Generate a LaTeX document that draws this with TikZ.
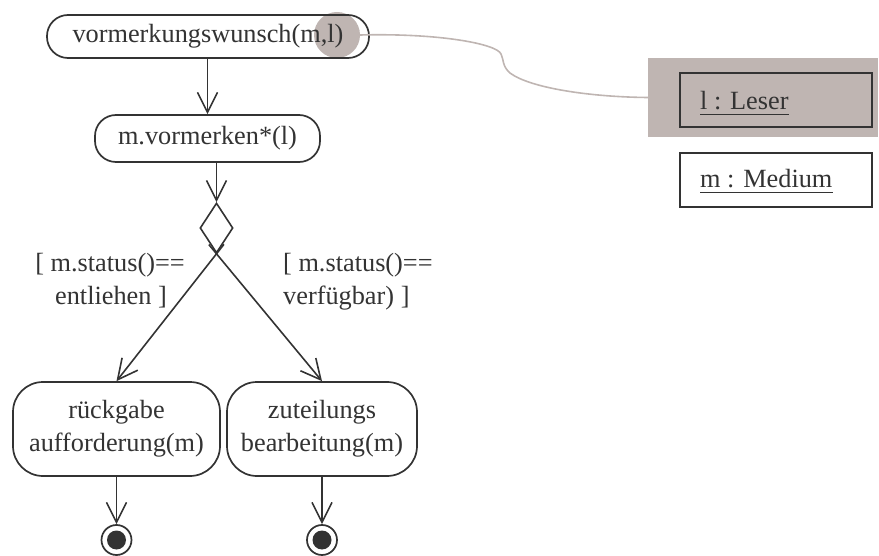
\documentclass[tikz,border=0pt]{standalone}
\usepackage{fontspec}
\setmainfont{Liberation Serif}
\usetikzlibrary{shapes.geometric,arrows.meta,calc}
\definecolor{ink}{HTML}{333333}
\definecolor{objgrey}{HTML}{BFB5B2}
\begin{document}
\begin{tikzpicture}[x=1pt,y=-1pt,
  font=\fontsize{26.3}{33}\selectfont, text=ink,
  act/.style={draw=ink, line width=1.7pt, rectangle, inner sep=0pt, align=center},
  flow/.style={draw=ink, line width=1.6pt,
    -{Straight Barb[length=20pt,width=20pt,line width=1.6pt]}},
  guard/.style={inner sep=0pt, anchor=base},
  objbox/.style={draw=ink, line width=1.7pt, minimum width=192pt, minimum height=54pt, inner sep=0pt},
  objname/.style={inner sep=0pt, anchor=base west},
  final/.style={circle, draw=ink, line width=1.7pt, fill=white, minimum size=30pt, inner sep=0pt,
    path picture={\fill[ink] (path picture bounding box.center) circle (9.5pt);}}
]
\useasboundingbox (0,0) rectangle (879,556);

% highlighted parameter of the first action
\node[circle, fill=objgrey, minimum size=46pt, inner sep=0pt] (hook) at (337,35) {};

% actions
\node[act, rounded corners=21pt, minimum width=322pt, minimum height=43pt] (wish) at (208,36.5) {vormerkungswunsch(m,l)};
\node[act, rounded corners=21pt, minimum width=225pt, minimum height=47pt] (vm) at (207.5,138.5) {m.vormerken*(l)};
\node[diamond, draw=ink, line width=1.6pt, minimum width=33pt, minimum height=50pt, inner sep=0pt] (dec) at (216.5,228) {};
\node[act, rounded corners=30pt, minimum width=207pt, minimum height=94pt] (ret) at (116.5,429) {rückgabe\\aufforderung(m)};
\node[act, rounded corners=30pt, minimum width=190pt, minimum height=94pt] (alloc) at (322,429) {zuteilungs\\bearbeitung(m)};
\node[final] (endL) at (116.5,540) {};
\node[final] (endR) at (322,540) {};

% guards
\node[guard] (g1a) at (110,272) {[ m.status()==};
\node[guard] (g1b) at (111,305) {entliehen ]};
\node[guard, anchor=base west] (g2a) at (283,272) {[ m.status()==};
\node[guard, anchor=base west] (g2b) at (283,305) {verfügbar) ]};

% objects
\node[fill=objgrey, minimum width=230pt, minimum height=79pt, inner sep=0pt] (lgroup) at (763,97.5) {};
\node[objbox] (lbox) at (776,100) {};
\node[objname] (ltext) at (700,110) {l : Leser};
\node[objbox] (mbox) at (776,180) {};
\node[objname] (mtext) at (700,188) {m : Medium};
\draw[ink, line width=1.5pt] ($(ltext.base west)+(0,4.5)$) -- ($(ltext.base east)+(0,4.5)$);
\draw[ink, line width=1.5pt] ($(mtext.base west)+(0,4.5)$) -- ($(mtext.base east)+(0,4.5)$);

% control flow
\draw[flow] (vm.north |- wish.south) -- (vm.north);
\draw[flow] (vm.south -| dec.north) -- (dec.north);
\draw[flow] ($(dec.south)!-12pt!(ret.north)$) -- (ret.north);
\draw[flow] ($(dec.south)!-12pt!(alloc.north)$) -- (alloc.north);
\draw[flow] (ret.south) -- (endL.north);
\draw[flow] (alloc.south) -- (endR.north);

% link from parameter to object
\draw[objgrey, line width=1.6pt] (hook.east) .. controls (440,33) and (497,44) .. (501,54)
  .. controls (504,60) and (502,66) .. (510,73) .. controls (530,88) and (590,97) .. (lgroup.west);
\end{tikzpicture}
\end{document}
